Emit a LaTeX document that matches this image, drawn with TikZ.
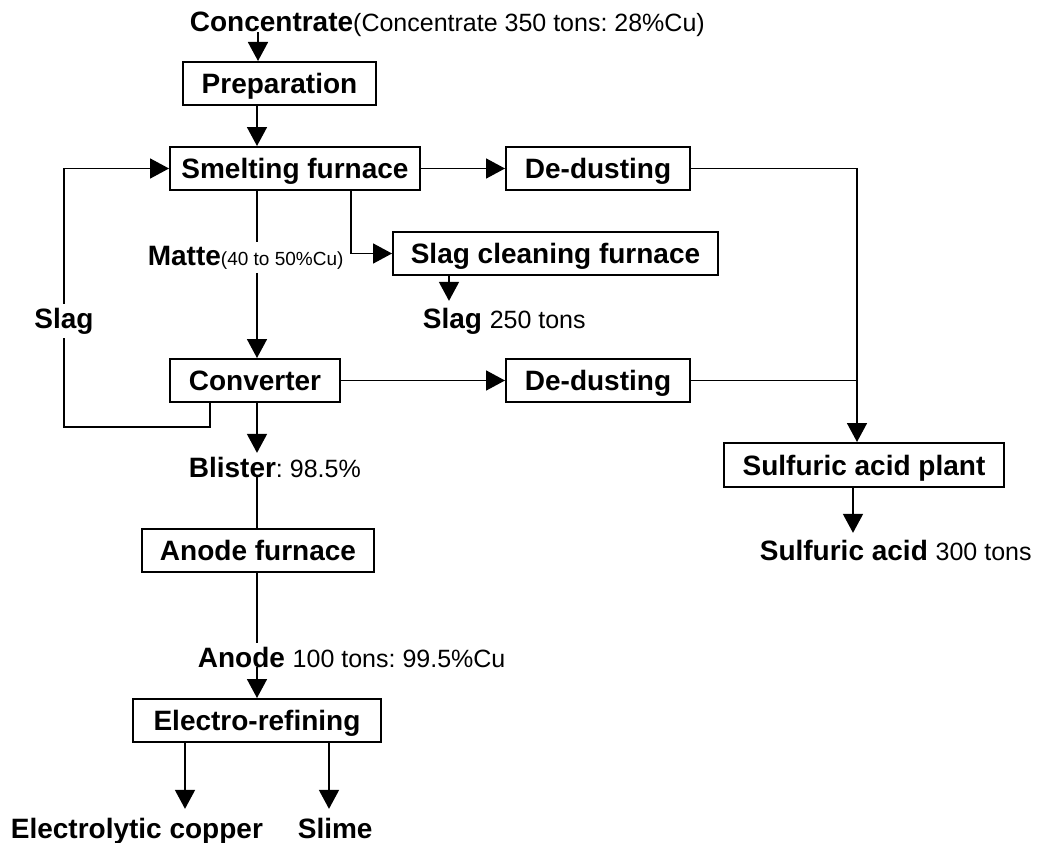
\documentclass[tikz,border=0pt]{standalone}
\usepackage{fontspec}
\setmainfont{Liberation Sans}
\usetikzlibrary{arrows.meta}
\frenchspacing
\newcommand{\bigtxt}{\fontsize{28}{32}\selectfont\bfseries}
\newcommand{\smalltxt}{\fontsize{25}{28}\selectfont\mdseries}
\newcommand{\tinytxt}{\fontsize{19}{22}\selectfont\mdseries}
\tikzset{
  unit/.style={draw, line width=2pt, minimum height=43pt, inner sep=0pt,
    text height=20pt, text depth=0pt, font=\bigtxt},
  lbl/.style={inner sep=3pt, fill=white, anchor=base west, font=\bigtxt},
}

\begin{document}
\begin{tikzpicture}[x=1pt, y=-1pt, line width=1.7pt,
    >={Triangle[length=19pt,width=20pt]}]
  \useasboundingbox (0,0) rectangle (1045,843);
  \node[unit, minimum width=193pt] (prep) at (279.5,83.5) {Preparation};
  \node[unit, minimum width=250pt] (smelt) at (295,168.5) {Smelting furnace};
  \node[unit, minimum width=184pt] (dust1) at (598,168.5) {De-dusting};
  \node[unit, minimum width=325pt] (slagcl) at (555.5,253.5) {Slag cleaning furnace};
  \node[unit, minimum width=170pt] (conv) at (255,380.5) {Converter};
  \node[unit, minimum width=184pt] (dust2) at (598,380.5) {De-dusting};
  \node[unit, minimum width=280pt, minimum height=44pt] (acidpl) at (864,465) {Sulfuric acid plant};
  \node[unit, minimum width=232pt] (anfur) at (258,550.5) {Anode furnace};
  \node[unit, minimum width=248pt] (elref) at (257,720.5) {Electro-refining};

  \node[lbl] (conc) at (186,32) {Concentrate{\smalltxt(Concentrate 350 tons: 28\%Cu)}};
  \node[lbl] (matte) at (144,265) {Matte{\tinytxt(40 to 50\%Cu)}};
  \node[lbl, anchor=base] (slagL) at (64,328) {Slag};
  \node[lbl, inner ysep=6pt] (slag2) at (419,328) {Slag {\smalltxt 250 tons}};
  \node[lbl] (blister) at (185,477) {Blister{\smalltxt: 98.5\%}};
  \node[lbl] (anlbl) at (194,667) {Anode {\smalltxt 100 tons: 99.5\%Cu}};
  \node[lbl, inner ysep=6pt] (acid) at (756,560) {Sulfuric acid {\smalltxt 300 tons}};
  \node[lbl, inner ysep=8pt] (copper) at (7,838) {Electrolytic copper};
  \node[lbl, inner ysep=8pt] (slime) at (294,838) {Slime};

  \coordinate (mainx) at (257,0);
  \draw[->] (conc.base -| 258,0) -- (prep.north -| 258,0);
  \draw[->] (prep.south -| mainx) -- (smelt.north -| mainx);
  \draw (smelt.south -| mainx) -- (matte.north -| mainx);
  \draw[->] (matte.south -| mainx) -- (conv.north -| mainx);
  \draw[->] (smelt.south -| 351,0) |- (slagcl.west);
  \draw[->] (slagcl.south -| 449,0) -- (slag2.north -| 449,0);
  \draw[->] (smelt) -- (dust1);
  \draw[->] (conv) -- (dust2);
  \draw[->] (dust1) -| (acidpl.north -| 857,0);
  \draw (dust2) -- (dust2 -| 857,0);
  \draw[->] (acidpl.south -| 853,0) -- (acid.north -| 853,0);
  \draw[->] (conv.south -| mainx) -- (blister.north -| mainx);
  \draw (blister.base -| mainx) -- (anfur.north -| mainx);
  \draw (anfur.south -| mainx) -- (anlbl.north -| mainx);
  \draw[->] (anlbl.base -| mainx) -- (elref.north -| mainx);
  \draw[->] (elref.south -| 185,0) -- (copper.north -| 185,0);
  \draw[->] (elref.south -| 329,0) -- (slime.north -| 329,0);
  % slag back to the smelting furnace
  \draw (conv.south -| 210,0) |- (slagL.south |- 0,427) -- (slagL.south);
  \draw[->] (slagL.north) |- (smelt.west);
\end{tikzpicture}
\end{document}
